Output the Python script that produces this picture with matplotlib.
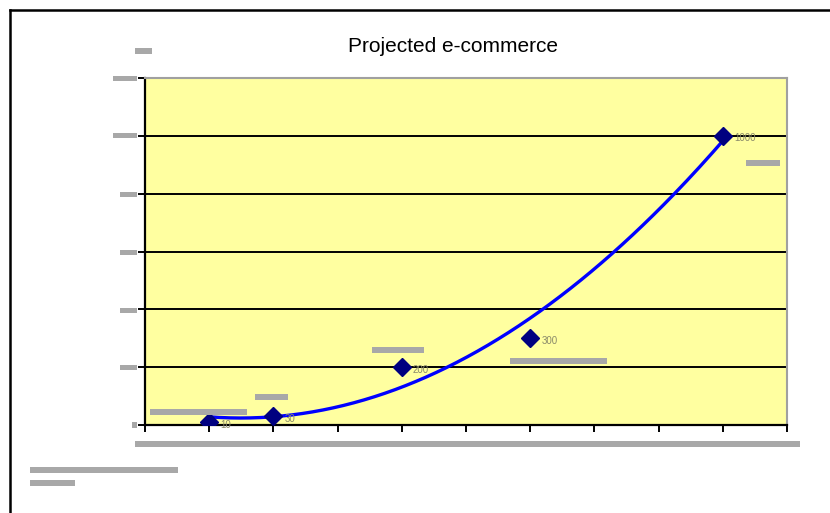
import numpy as np
import matplotlib.pyplot as plt
from matplotlib.patches import Rectangle
from matplotlib.lines import Line2D

plt.rcParams['font.family'] = ['Liberation Sans', 'DejaVu Sans']

# data
x_vals = [1, 2, 4, 6, 9]
y_vals = [10, 30, 200, 300, 1000]
point_labels = ["10", "30", "200", "300", "1000"]
y_ticks = [0, 200, 400, 600, 800, 1000, 1200]
x_ticks = list(range(0, 11))

W, H = 830, 513
fig = plt.figure(figsize=(W / 100, H / 100), dpi=100)

def px_box(x0, y0, x1, y1):
    # pixel box (top-left origin) -> figure fraction
    return x0 / W, 1 - y1 / H, (x1 - x0) / W, (y1 - y0) / H

ax = fig.add_axes(px_box(145, 78, 787, 425))
ax.set_facecolor('#ffffa0')

# polynomial trendline
coef = np.polyfit(x_vals, y_vals, 2)
xs = np.linspace(x_vals[0], x_vals[-1], 200)
ax.plot(xs, np.polyval(coef, xs), color='#0000ff', lw=2.4, zorder=3)

ax.plot(x_vals, y_vals, linestyle='none', marker='D', color='#000080',
        markersize=9, zorder=4)
for xv, yv, lab in zip(x_vals, y_vals, point_labels):
    ax.annotate(lab, (xv, yv), xytext=(8, -4), textcoords='offset points',
                fontsize=7, color='#8a8a6a', zorder=5)

ax.set_xlim(0, 10)
ax.set_ylim(0, 1200)
ax.set_xticks(x_ticks)
ax.set_yticks(y_ticks)
ax.set_xticklabels([])
ax.set_yticklabels([])
ax.yaxis.grid(True, color='black', lw=1.4)
ax.set_axisbelow(True)
ax.tick_params(length=5, width=1.4, color='black', direction='out')
for s in ['top', 'right']:
    ax.spines[s].set_color('#a0a0a0')
    ax.spines[s].set_linewidth(1.5)
for s in ['left', 'bottom']:
    ax.spines[s].set_color('black')
    ax.spines[s].set_linewidth(1.6)

fig.text(453 / W, 1 - 46 / H, "Projected e-commerce", ha='center', va='center',
         fontsize=15, color='black')

# redacted grey blocks
grey = '#a8a8a8'
blocks = [
    (135, 48, 152, 54),
    (113, 76, 137, 81), (113, 133, 137, 138), (120, 192, 137, 197),
    (120, 250, 137, 255), (120, 308, 137, 313), (120, 365, 137, 370),
    (132, 422, 137, 428),
    (150, 409, 247, 415), (255, 394, 288, 400), (372, 347, 424, 353),
    (510, 358, 607, 364), (746, 160, 780, 166),
    (135, 441, 800, 447),
    (30, 467, 178, 473), (30, 480, 75, 486),
]
for b in blocks:
    x0, y0, w, h = px_box(*b)
    fig.add_artist(Rectangle((x0, y0), w, h, transform=fig.transFigure,
                             color=grey, lw=0))

# outer chart border
fig.add_artist(Line2D([10 / W, 10 / W], [0, 1 - 10 / H], color='black', lw=1.8,
                      transform=fig.transFigure))
fig.add_artist(Line2D([10 / W, 1], [1 - 10 / H, 1 - 10 / H], color='black', lw=1.8,
                      transform=fig.transFigure))

fig.savefig('out.png', dpi=100)
